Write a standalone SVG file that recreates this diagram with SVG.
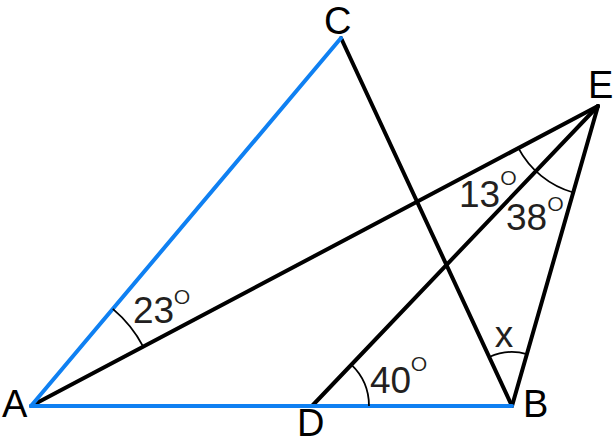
<svg xmlns="http://www.w3.org/2000/svg" width="613" height="443" viewBox="0 0 613 443">
<style>
.blue{stroke:#0f80f2;stroke-width:4;fill:none;stroke-linecap:round}
.blk{stroke:#000;stroke-width:4;fill:none;stroke-linecap:round}
.arc{stroke:#000;stroke-width:1.8;fill:none}
.lbl{font-family:"Liberation Sans",Arial,sans-serif;font-size:38px;fill:#000}
.num{font-family:"Liberation Sans",Arial,sans-serif;font-size:37px;fill:#231f20}
.deg{font-family:Roboto,"Liberation Sans",sans-serif;font-weight:300;font-size:25px;fill:#231f20}
</style>
<rect width="613" height="443" fill="#fff"/>
<g id="connectors">
<line class="blk" x1="341" y1="38" x2="512" y2="406"/>
<line class="blk" x1="31" y1="406" x2="598" y2="106"/>
<line class="blk" x1="312" y1="406" x2="598" y2="106"/>
<line class="blk" x1="598" y1="106" x2="512" y2="406"/>
<line class="blue" x1="31" y1="406" x2="341" y2="38"/>
<line class="blue" x1="31" y1="406" x2="512" y2="406"/>
</g>
<g id="arcs">
<path class="arc" d="M112.8,308.9 A127,127 0 0 1 143.2,346.6"/>
<path class="arc" d="M351.3,364.7 A57,57 0 0 1 369,406"/>
<path class="arc" d="M489.3,357 A54,54 0 0 1 526.9,354.1"/>
<path class="arc" d="M518.4,148.1 A90,90 0 0 0 573.2,192.5"/>
</g>
<g id="A"><text class="lbl" x="2" y="417">A</text></g>
<g id="B"><text class="lbl" x="523" y="417">B</text></g>
<g id="C"><text class="lbl" x="324" y="34">C</text></g>
<g id="D"><text class="lbl" x="297" y="435.5">D</text></g>
<g id="E"><text class="lbl" x="588" y="98">E</text></g>
<g id="labels">
<text class="num" x="504" y="347" text-anchor="middle">x</text>
<text class="num" x="133" y="323">23<tspan class="deg" x="173.5" y="303.5" textLength="17" lengthAdjust="spacingAndGlyphs">o</tspan></text>
<text class="num" x="370" y="393">40<tspan class="deg" x="410.5" y="371" textLength="17" lengthAdjust="spacingAndGlyphs">o</tspan></text>
<text class="num" x="459" y="207">13<tspan class="deg" x="500" y="185" textLength="17" lengthAdjust="spacingAndGlyphs">o</tspan></text>
<text class="num" x="506" y="230">38<tspan class="deg" x="547" y="211" textLength="17" lengthAdjust="spacingAndGlyphs">o</tspan></text>
</g>
</svg>
